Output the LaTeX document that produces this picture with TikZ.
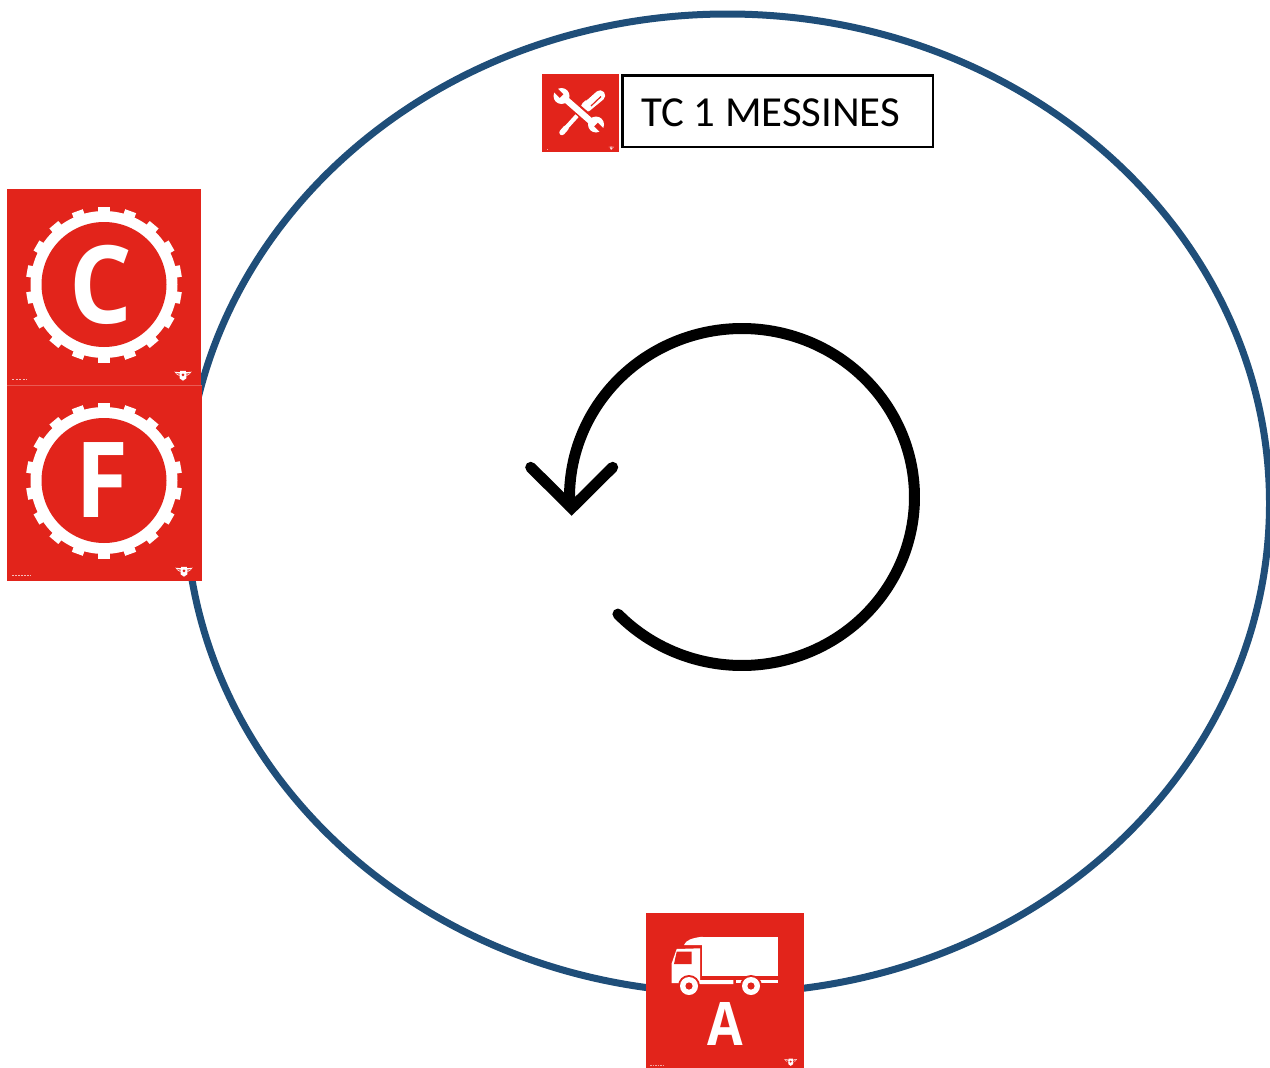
\documentclass[tikz,border=0pt]{standalone}
\usepackage{fontspec}
\setmainfont{Carlito}
\newfontfamily\signfont{Open Sans}
\definecolor{ringblue}{HTML}{1F4E79}
\definecolor{signred}{HTML}{E2241B}
\tikzset{
  ringline/.style={draw=ringblue,line width=7pt},
  signbox/.style={fill=signred,draw=none},
  cycleline/.style={line width=11pt,line cap=round,line join=miter,miter limit=10},
  labelbox/.style={draw=black,line width=2.4pt,fill=white,minimum width=310.5pt,minimum height=71.5pt,inner sep=0pt},
  signletter/.style={text=white,inner sep=0pt,font=\signfont\bfseries\fontsize{105}{110}\selectfont}
}
% winged mark at the corner of a sign
\newcommand{\wingmark}[3]{%
  \begin{scope}[shift={(#1,#2)},scale=#3]
    \fill[white] (-9,-4) -- (-3,-3.4) -- (-3,-5) -- (3,-5) -- (3,-3.4) -- (9,-4) -- (6.5,-1) -- (3.5,.5) -- (3.5,3) -- (0,5.5) -- (-3.5,3) -- (-3.5,.5) -- (-6.5,-1) -- cycle;
    \fill[signred] (0,-.6) circle (1.6);
    \draw[signred,line width=.5pt] (-7,-2.4) -- (-3.4,-1.6) (7,-2.4) -- (3.4,-1.6) (-5.5,-.9) -- (-3.4,-.4) (5.5,-.9) -- (3.4,-.4);
  \end{scope}}
% toothed ring
\newcommand{\gearring}[2]{%
  \begin{scope}[shift={(#1,#2)}]
    \fill[white] (0,0) circle (73.5);
    \foreach \a in {90,70,...,-250}{
      \begin{scope}[rotate=\a]
        \fill[white] (62,-5.8) rectangle (78,5.8);
      \end{scope}}
    \fill[signred] (0,0) circle (62.5);
  \end{scope}}
\begin{document}
\begin{tikzpicture}[x=1pt,y=-1pt]
\useasboundingbox (0,0) rectangle (1270,1068);
\fill[white] (0,0) rectangle (1270,1068);

% big ring
\begin{scope}
  \clip (0,0) rectangle (1270,1068);
  \draw[ringline] (727.5,503.5) ellipse [x radius=542,y radius=489.5];
\end{scope}

% cycle arrow
\draw[cycleline] plot[smooth,samples=100,domain=136:-183] ({742+172.5*cos(\x)},{497+168.5*sin(\x)});
\draw[cycleline] (530.7,467.3) -- (571.7,508) -- (612.7,467.3);

% label
\node[labelbox] (label) at (777.7,111.2) {};
\node[anchor=base west,inner sep=0pt,font=\fontsize{42.8}{48}\selectfont] (labeltext) at (641,126) {TC 1 MESSINES};

% tools sign
\fill[signbox] (542,74) rectangle (619,152);
\draw[white,line width=4.2pt] (584,108) -- (565,129);
\draw[white,line width=5.5pt,line cap=round] (566,128) -- (562,132.5);
\draw[white,line width=10.5pt,line cap=round] (600,95.5) -- (586,107);
\draw[signred,line width=1.2pt] (596,91) -- (586,100) (601,96.5) -- (591,106);
\draw[signred,line width=10pt] (568,101) -- (591,121);
\draw[white,line width=6.3pt] (563,97) -- (595,125);
\fill[white] (561.5,96) circle (8) (596,124.5) circle (8);
\draw[signred,line width=5pt] (561.5,96) -- (553,87.5);
\draw[signred,line width=5pt] (596,124.5) -- (604.5,133);
\wingmark{611.3}{148}{.3}
\fill[white,opacity=.6] (546.5,149) rectangle (548,150);

% C sign
\fill[signbox] (7,189) rectangle (201,385);
\gearring{104}{284.5}
\node[signletter] (letterC) at (100.5,284.5) {\scalebox{.94}[1.03]{C}};
\wingmark{183}{375.5}{.95}
\draw[white,line width=.8pt,opacity=.7,dash pattern=on 2pt off 1.5pt] (12,379) -- (27,379);

% F sign
\fill[signbox] (7,386) rectangle (202,581);
\gearring{104}{480.5}
\node[signletter] (letterF) at (102.5,480.5) {\scalebox{.92}[1]{F}};
\wingmark{184}{571.5}{.95}
\draw[white,line width=.8pt,opacity=.7,dash pattern=on 2pt off 1pt] (12,575) -- (31,575);
\draw[signred!75!white,line width=.6pt] (7,385.5) -- (202,385.5);

% A sign
\fill[signbox] (646,913) rectangle (804,1068);
\fill[white] (702.3,936.7) rectangle (777.7,975.7);
\fill[white] (684,945) .. controls (686,940) and (692,938) .. (702.3,936.7) -- (702.3,945) -- cycle;
\fill[white] (671.7,983) -- (671.7,963.3) -- (676.7,949) -- (700,948.3) -- (700,980) -- (733.3,980) -- (733.3,984) -- (700,984) -- cycle;
\fill[white] (735.7,980) rectangle (777.7,983);
\fill[signred] (676.7,951.7) -- (691.7,951.7) -- (691.7,964) -- (674,964) -- cycle;
\foreach \w in {689,751}{
  \fill[signred] (\w,986) circle (11);
  \fill[white] (\w,986) circle (9);
  \fill[signred] (\w,986) circle (3.6);
}
\node[text=white,inner sep=0pt,font=\signfont\bfseries\fontsize{60}{64}\selectfont] (letterA) at (725,1023.5) {\scalebox{.86}[1]{A}};
\wingmark{790.7}{1062}{.7}
\draw[white,line width=.6pt,opacity=.6,dash pattern=on 1.5pt off 1pt] (650,1065) -- (665,1065);
\end{tikzpicture}
\end{document}
